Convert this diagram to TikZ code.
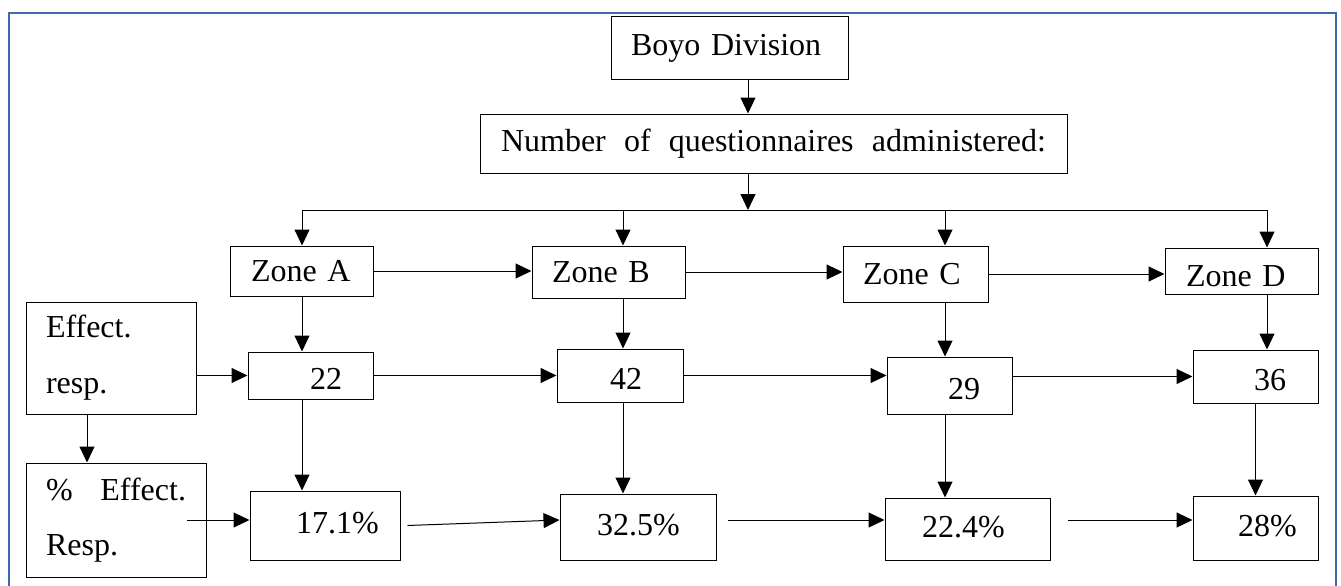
\documentclass[tikz,border=0pt]{standalone}
\usepackage{fontspec}
\setmainfont{Liberation Serif}
\usetikzlibrary{arrows.meta}
\definecolor{frameblue}{RGB}{65,105,175}

\begin{document}
\begin{tikzpicture}[x=1pt,y=-1pt,
  box/.style={draw, line width=1pt, inner sep=0pt, align=left, font=\fontsize{32}{38}\selectfont},
  low/.style={text height=27pt, text depth=0pt},
  high/.style={text height=22pt, text depth=6pt},
  arr/.style={line width=1pt, -{Triangle[length=16pt,width=15pt]}},
  frame/.style={line width=2.5pt, draw=frameblue}]
\useasboundingbox (0,0) rectangle (1341,586);
\draw[frame] (9,600) -- (9,13) -- (1336,13) -- (1336,600);

\node[box, text width=237pt, minimum height=62pt] (boyo) at (729.5,48) {\hspace*{20pt}Boyo Division};
\node[box, text width=545pt, inner xsep=21pt, minimum height=59pt] (num) at (773.5,143.5) {Number\hfill of\hfill questionnaires\hfill administered:};

\node[box, text width=143pt, minimum height=50pt] (zA) at (301.5,271) {\hspace*{21pt}Zone A};
\node[box, text width=153pt, minimum height=52pt] (zB) at (608.5,272) {\hspace*{20pt}Zone B};
\node[box, text width=145pt, minimum height=56pt] (zC) at (915.5,274) {\hspace*{20pt}Zone C};
\node[box, text width=153pt, minimum height=46pt, text height=30pt, text depth=0pt] (zD) at (1241.5,271) {\hspace*{21pt}Zone D};

\node[box, text width=130pt, inner xsep=20pt, minimum height=112pt, font=\fontsize{32}{56}\selectfont] (eff) at (111,358) {Effect.\\resp.};
\node[box, text width=140pt, inner xsep=20pt, minimum height=114pt, font=\fontsize{32}{55}\selectfont] (pct) at (116,520) {\%\hfill Effect.\\Resp.};

\node[box, low, text width=125pt, minimum height=47pt] (nA) at (310.5,375.5) {\hspace*{62pt}22};
\node[box, low, text width=126pt, minimum height=53pt] (nB) at (620,375.5) {\hspace*{53pt}42};
\node[box, low, text width=125pt, minimum height=57pt] (nC) at (949.5,385.5) {\hspace*{61pt}29};
\node[box, low, text width=125pt, minimum height=53pt] (nD) at (1255.5,376.5) {\hspace*{61pt}36};

\node[box, high, text width=150pt, minimum height=69pt] (pA) at (325,525.5) {\hspace*{46pt}17.1\%};
\node[box, high, text width=156pt, minimum height=66pt] (pB) at (638,527) {\hspace*{37pt}32.5\%};
\node[box, high, text width=165pt, minimum height=62pt] (pC) at (967.5,529) {\hspace*{37pt}22.4\%};
\node[box, high, text width=125pt, minimum height=64pt] (pD) at (1255.5,528) {\hspace*{45pt}28\%};

\coordinate (dA) at (302,210);
\coordinate (dB) at (623,210);
\coordinate (trunk) at (748,210);
\coordinate (dC) at (945,210);
\coordinate (dD) at (1267,210);

\draw[arr] (boyo.south -| trunk) -- (num.north -| trunk);
\draw[arr] (num.south -| trunk) -- (trunk);
\draw[line width=1pt] (dA) -- (dD);
\draw[arr] (dA) -- (zA.north -| dA);
\draw[arr] (dB) -- (zB.north -| dB);
\draw[arr] (dC) -- (zC.north -| dC);
\draw[arr] (dD) -- (zD.north -| dD);

\draw[arr] (zA.east) -- (zA.east -| zB.west);
\draw[arr] (zB.east) -- (zB.east -| zC.west);
\draw[arr] (zC.east) -- (zC.east -| zD.west);

\draw[arr] (zA.south -| dA) -- (nA.north -| dA);
\draw[arr] (zB.south -| dB) -- (nB.north -| dB);
\draw[arr] (zC.south -| dC) -- (nC.north -| dC);
\draw[arr] (zD.south -| dD) -- (nD.north -| dD);

\draw[arr] (eff.east |- nA.west) -- (nA.west);
\draw[arr] (nA.east) -- (nA.east -| nB.west);
\draw[arr] (nB.east) -- (nB.east -| nC.west);
\draw[arr] (nD.west -| nC.east) -- (nD.west);
\draw[arr] ([xshift=-24pt]eff.south) -- ([xshift=-24pt]eff.south |- pct.north);

\draw[arr] (nA.south -| dA) -- (pA.north -| dA);
\draw[arr] (nB.south -| dB) -- (pB.north -| dB);
\draw[arr] (nC.south -| dC) -- (pC.north -| dC);
\draw[arr] (nD.south) -- (pD.north);

\draw[arr] ([xshift=-20pt]pct.east) -- (pct.east -| pA.west);
\draw[arr] ([xshift=7pt]pA.east) -- ([yshift=7pt]pB.west);
\draw[arr] ([shift={(11pt,7pt)}]pB.east) -- ([yshift=9pt]pC.west);
\draw[arr] ([shift={(17pt,9pt)}]pC.east) -- ([yshift=8pt]pD.west);
\end{tikzpicture}
\end{document}
